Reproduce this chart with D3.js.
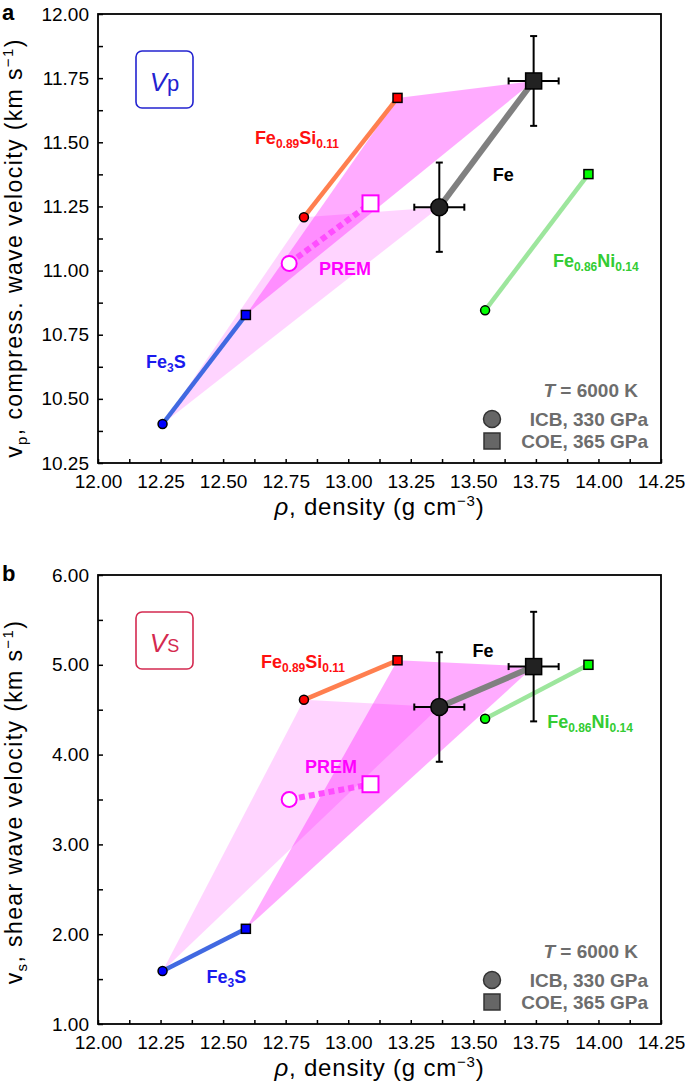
<!DOCTYPE html>
<html><head><meta charset="utf-8">
<script src="https://cdn.jsdelivr.net/npm/d3@7"></script>
<style>
body{margin:0;background:#fff}
svg{display:block;font-family:"Liberation Sans",Arial,Helvetica,sans-serif}
</style>
</head><body><svg id="c" width="685" height="1088"></svg>
<script>
// ---------------- DATA ----------------
const materials = ["Fe", "Fe0.89Si0.11", "Fe0.86Ni0.14", "Fe3S", "PREM"];
const rhoICB = [13.364, 12.823, 13.547, 12.258, 12.764];
const rhoCOE = [13.741, 13.197, 13.960, 12.591, 13.089];
const vpICB  = [11.247, 11.208, 10.845, 10.402, 11.028];
const vpCOE  = [11.739, 11.673, 11.376, 10.827, 11.262];
const vsICB  = [4.53, 4.61, 4.40, 1.59, 3.50];
const vsCOE  = [4.98, 5.05, 5.00, 2.06, 3.67];
const feRhoErr = [0.10, 0.10];   // ICB, COE
const feVpErr  = [0.174, 0.175];
const feVsErr  = [0.61, 0.61];
const shadedMaterials = ["Fe3S", "Fe0.89Si0.11", "Fe"];
const xTicks  = [12.00, 12.25, 12.50, 12.75, 13.00, 13.25, 13.50, 13.75, 14.00, 14.25];
const vpTicks = [10.25, 10.50, 10.75, 11.00, 11.25, 11.50, 11.75, 12.00];
const vsTicks = [1.00, 2.00, 3.00, 4.00, 5.00, 6.00];
const legendTitle = "6000 K";
const legendItems = ["ICB, 330 GPa", "COE, 365 GPa"];

// ---------------- STYLES ----------------
const style = {
  "Fe":           {line:"#808080", lw:6,   fill:"#222222", stroke:"#000", big:true,  label:"#000000", parts:[["Fe"]]},
  "Fe0.89Si0.11": {line:"#ff7f4f", lw:4.5, fill:"#ff0000", stroke:"#000", label:"#ff1010", parts:[["Fe"],["0.89",1],["Si"],["0.11",1]]},
  "Fe0.86Ni0.14": {line:"#9de69d", lw:4.5, fill:"#00ff00", stroke:"#000", label:"#33cc33", parts:[["Fe"],["0.86",1],["Ni"],["0.14",1]]},
  "Fe3S":         {line:"#4169e1", lw:4.5, fill:"#0000ff", stroke:"#000", label:"#1a1aee", parts:[["Fe"],["3",1],["S"]]},
  "PREM":         {line:"#ff4dff", lw:6,   fill:"#ffffff", stroke:"#ff00ff", prem:true, label:"#ff00ff", parts:[["PREM"]]}
};

const panels = [
  {key:"a", y0:14, y1:463, dom:[10.25, 12.00], ticks:vpTicks, minor:0.125,
   vI:vpICB, vC:vpCOE, err:feVpErr, box:{t:"V", s:"p", col:"#2323d0"},
   sub:"p", title:", compress. wave velocity (km s", titleCy:248,
   labels:{"Fe0.89Si0.11":[12.627,11.493], "Fe":[13.578,11.349], "Fe0.86Ni0.14":[13.818,11.014],
           "PREM":[12.883,10.983], "Fe3S":[12.192,10.620]}},
  {key:"b", y0:575, y1:1024, dom:[1.00, 6.00], ticks:vsTicks, minor:0.5,
   vI:vsICB, vC:vsCOE, err:feVsErr, box:{t:"V", s:"S", col:"#d42a50"},
   sub:"s", title:", shear wave velocity (km s", titleCy:802,
   labels:{"Fe0.89Si0.11":[12.651,4.964], "Fe":[13.497,5.09], "Fe0.86Ni0.14":[13.795,4.293],
           "PREM":[12.827,3.80], "Fe3S":[12.434,1.46]}}
];

const svg = d3.select("#c");
const X0 = 98, X1 = 661;

function richText(g, x, y, parts, color, size, subSize) {
  const t = g.append("text").attr("x", x).attr("y", y).attr("fill", color)
    .attr("font-weight", "bold").attr("font-size", size);
  let shifted = false;
  parts.forEach(p => {
    const ts = t.append("tspan").text(p[0]);
    if (p[1]) { ts.attr("font-size", subSize); if (!shifted) { ts.attr("dy", 4); shifted = true; } }
    else if (shifted) { ts.attr("dy", -4); shifted = false; }
  });
  return t;
}

panels.forEach(P => {
  const x = d3.scaleLinear().domain([12.00, 14.25]).range([X0, X1]);
  const y = d3.scaleLinear().domain(P.dom).range([P.y1, P.y0]);
  const g = svg.append("g");
  const idx = m => materials.indexOf(m);
  const pI = m => [x(rhoICB[idx(m)]), y(P.vI[idx(m)])];
  const pC = m => [x(rhoCOE[idx(m)]), y(P.vC[idx(m)])];

  // shaded regions
  g.append("path").attr("d", "M" + shadedMaterials.map(pI).join("L") + "Z")
    .attr("fill", "#ff00ff").attr("fill-opacity", 0.17);
  g.append("path").attr("d", "M" + shadedMaterials.map(pC).join("L") + "Z")
    .attr("fill", "#ff00ff").attr("fill-opacity", 0.33);

  // lines
  materials.forEach(m => {
    const s = style[m];
    const a = pI(m), b = pC(m);
    const l = g.append("line").attr("x1", a[0]).attr("y1", a[1]).attr("x2", b[0]).attr("y2", b[1])
      .attr("stroke", s.line).attr("stroke-width", s.lw);
    if (s.prem) l.attr("stroke-dasharray", "6,4");
  });

  // error bars for Fe
  const fi = idx("Fe");
  [[rhoICB[fi], P.vI[fi], 0], [rhoCOE[fi], P.vC[fi], 1]].forEach(([rx, vy, k]) => {
    const eg = g.append("g").attr("stroke", "#000").attr("stroke-width", 2);
    const cx = x(rx), cy = y(vy);
    const yt = y(vy + P.err[k]), yb = y(vy - P.err[k]);
    const xl = x(rx - feRhoErr[k]), xr = x(rx + feRhoErr[k]);
    eg.append("line").attr("x1", cx).attr("x2", cx).attr("y1", yt).attr("y2", yb);
    eg.append("line").attr("x1", cx - 3.5).attr("x2", cx + 3.5).attr("y1", yt).attr("y2", yt);
    eg.append("line").attr("x1", cx - 3.5).attr("x2", cx + 3.5).attr("y1", yb).attr("y2", yb);
    eg.append("line").attr("x1", xl).attr("x2", xr).attr("y1", cy).attr("y2", cy);
    eg.append("line").attr("x1", xl).attr("x2", xl).attr("y1", cy - 3.5).attr("y2", cy + 3.5);
    eg.append("line").attr("x1", xr).attr("x2", xr).attr("y1", cy - 3.5).attr("y2", cy + 3.5);
  });

  // markers
  materials.forEach(m => {
    const s = style[m];
    const a = pI(m), b = pC(m);
    const r = s.big ? 8.5 : s.prem ? 7.5 : 4.5;
    const side = s.big ? 16 : s.prem ? 16 : 9;
    const sw = s.prem ? 2 : 1.5;
    g.append("circle").attr("cx", a[0]).attr("cy", a[1]).attr("r", r)
      .attr("fill", s.fill).attr("stroke", s.stroke).attr("stroke-width", sw);
    g.append("rect").attr("x", b[0] - side / 2).attr("y", b[1] - side / 2)
      .attr("width", side).attr("height", side)
      .attr("fill", s.fill).attr("stroke", s.stroke).attr("stroke-width", sw);
  });

  // labels
  materials.forEach(m => {
    const s = style[m];
    const pos = P.labels[m];
    richText(g, x(pos[0]), y(pos[1]), s.parts, s.label, 18, 12);
  });

  // axes
  const xMinor = d3.range(12.00, 14.2501, 0.125);
  const yMinor = d3.range(P.dom[0], P.dom[1] + 1e-6, P.minor);
  const xa = g.append("g").attr("transform", `translate(0,${P.y1})`)
    .call(d3.axisBottom(x).tickValues(xMinor).tickSize(-4).tickFormat(""));
  const xl = g.append("g").attr("transform", `translate(0,${P.y1})`)
    .call(d3.axisBottom(x).tickValues(xTicks).tickSize(0).tickPadding(25).tickFormat(d3.format(".2f")));
  const ya = g.append("g").attr("transform", `translate(${X0},0)`)
    .call(d3.axisLeft(y).tickValues(yMinor).tickSize(-5).tickFormat(""));
  const yl = g.append("g").attr("transform", `translate(${X0},0)`)
    .call(d3.axisLeft(y).tickValues(P.ticks).tickSize(0).tickPadding(9).tickFormat(d3.format(".2f")));
  [xa, xl, ya, yl].forEach(a => { a.select(".domain").remove(); a.selectAll("line").attr("stroke", "#000").attr("stroke-width", 1.5); });
  [xl, yl].forEach(a => a.selectAll("text").attr("font-size", 19).attr("fill", "#000")
    .attr("font-family", '"Liberation Sans", Arial, sans-serif'));
  xl.selectAll("text").attr("dy", 0).attr("y", 25);
  g.append("rect").attr("x", X0).attr("y", P.y0).attr("width", X1 - X0).attr("height", P.y1 - P.y0)
    .attr("fill", "none").attr("stroke", "#000").attr("stroke-width", 1.8);

  // axis titles
  const xt = g.append("text").attr("x", (X0 + X1) / 2).attr("y", P.y1 + 52)
    .attr("text-anchor", "middle").attr("font-size", 24).attr("letter-spacing", 0.8).attr("fill", "#000");
  xt.append("tspan").attr("font-style", "italic").text("ρ");
  xt.append("tspan").text(", density (g cm");
  xt.append("tspan").attr("font-size", 15).attr("dy", -9).text("−3");
  xt.append("tspan").attr("dy", 9).text(")");

  const yt = g.append("text").attr("transform", `translate(22,${P.titleCy}) rotate(-90)`)
    .attr("text-anchor", "middle").attr("font-size", 23).attr("letter-spacing", 1.4).attr("fill", "#000");
  yt.append("tspan").text("v");
  yt.append("tspan").attr("font-size", 15).attr("dy", 5).text(P.sub);
  yt.append("tspan").attr("dy", -5).text(P.title);
  yt.append("tspan").attr("font-size", 15).attr("dy", -9).text("−1");
  yt.append("tspan").attr("dy", 9).text(")");

  // panel letter
  g.append("text").attr("x", 2).attr("y", P.y0 + 6).attr("font-size", 22).attr("font-weight", "bold").text(P.key);

  // V box
  g.append("rect").attr("x", 136).attr("y", P.y0 + 37).attr("width", 57).attr("height", 57).attr("rx", 6)
    .attr("fill", "none").attr("stroke", P.box.col).attr("stroke-width", 1.6);
  const bt = g.append("text").attr("x", 164.5).attr("y", P.y0 + 77).attr("text-anchor", "middle").attr("fill", P.box.col);
  bt.append("tspan").attr("font-style", "italic").attr("font-size", 26).text(P.box.t);
  bt.append("tspan").attr("font-size", P.box.s === "p" ? 22 : 18).text(P.box.s);

  // legend
  const lg = g.append("g").attr("fill", "#6d6d6d").attr("font-weight", "bold").attr("font-size", 19);
  const lt = lg.append("text").attr("x", 638).attr("y", P.y1 - 66).attr("text-anchor", "end");
  lt.append("tspan").attr("font-style", "italic").text("T");
  lt.append("tspan").text(" = " + legendTitle);
  lg.append("text").attr("x", 648).attr("y", P.y1 - 37).attr("text-anchor", "end").text(legendItems[0]);
  lg.append("text").attr("x", 648).attr("y", P.y1 - 15).attr("text-anchor", "end").text(legendItems[1]);
  lg.append("circle").attr("cx", 492).attr("cy", P.y1 - 44).attr("r", 8.5).attr("fill", "#666").attr("stroke", "#333").attr("stroke-width", 1.5);
  lg.append("rect").attr("x", 484).attr("y", P.y1 - 30).attr("width", 16).attr("height", 16).attr("fill", "#666").attr("stroke", "#333").attr("stroke-width", 1.5);
});
</script>
</body></html>
